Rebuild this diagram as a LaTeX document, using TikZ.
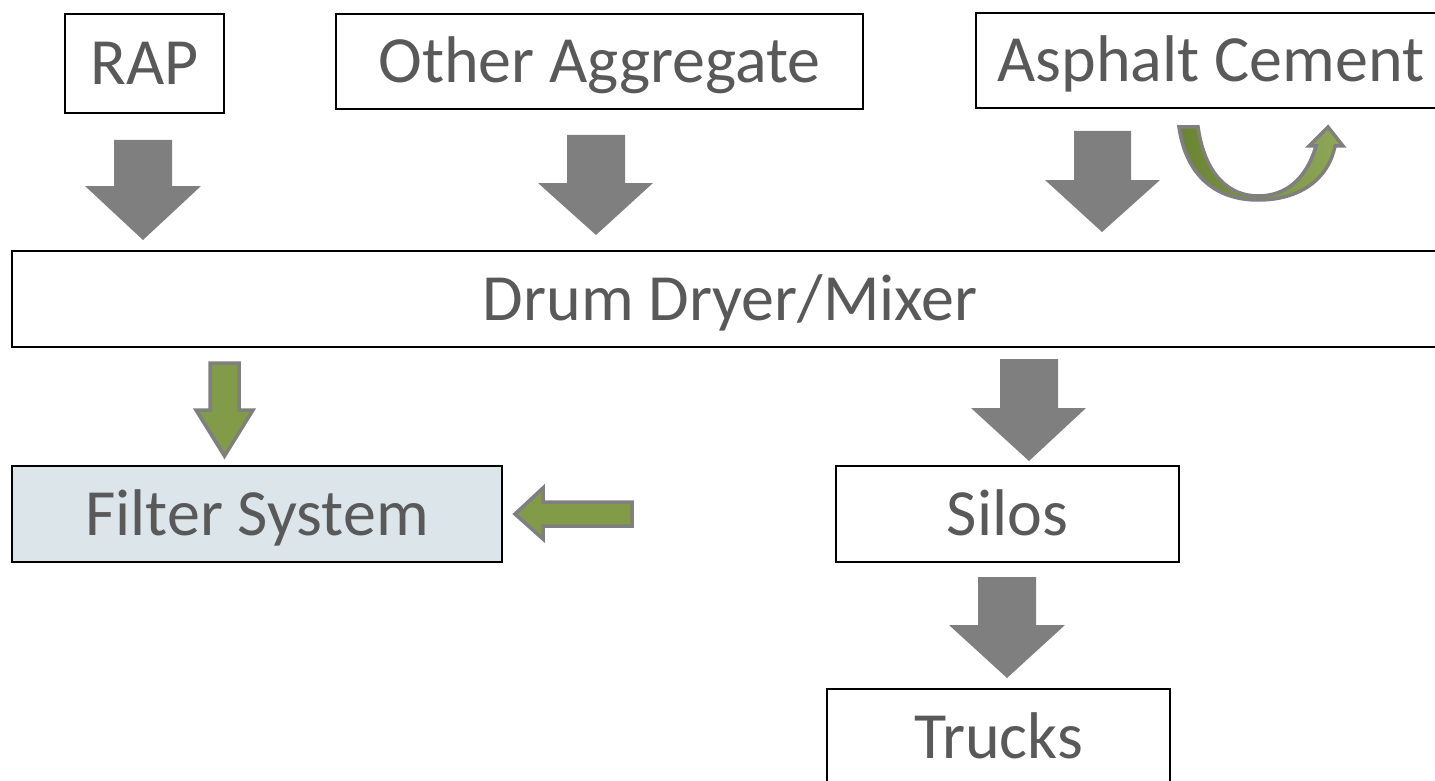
\documentclass[tikz,border=0pt]{standalone}
\usepackage{fontspec}
\setmainfont{Carlito}
\definecolor{txt}{HTML}{595959}
\definecolor{arrgray}{HTML}{7F7F7F}
\definecolor{grn}{HTML}{819B48}
\definecolor{grndark}{HTML}{6A8434}
\definecolor{grnlight}{HTML}{8FA757}
\definecolor{filterfill}{HTML}{DBE5EA}
\tikzset{
  box/.style={draw=black, line width=1.4pt, fill=white, inner sep=0pt, outer sep=0pt,
    text=txt, font=\fontsize{66}{79}\selectfont, text height=43pt, text depth=0pt},
  grayarrow/.style={fill=arrgray, draw=none},
  greenarrow/.style={fill=grn, draw=arrgray, line width=3.5pt, line join=miter},
}
\begin{document}
\begin{tikzpicture}[x=1pt,y=-1pt]
\useasboundingbox (0,0) rectangle (1435,781);
% boxes
\node[box, minimum width=159pt, minimum height=99pt] (rap) at (144.5,63.5) {RAP};
\node[box, minimum width=527pt, minimum height=95pt] (oa) at (599.5,61.5) {Other Aggregate};
\node[box, minimum width=470pt, minimum height=95pt] (ac) at (1211,60.5) {Asphalt Cement};
\node[box, minimum width=1436pt, minimum height=96pt] (drum) at (730,299) {Drum Dryer/Mixer};
\node[box, fill=filterfill, minimum width=490pt, minimum height=96pt] (filter) at (257,514) {Filter System};
\node[box, minimum width=343pt, minimum height=96pt] (silos) at (1007.5,514) {Silos};
\node[box, minimum width=343pt, minimum height=96pt] (trucks) at (998.5,737) {Trucks};
% gray block arrows
\path[grayarrow] (114,140)--(172,140)--(172,186)--(201,186)--(143,240)--(85,186)--(114,186)--cycle;
\path[grayarrow] (567,135)--(625,135)--(625,183)--(653,183)--(596,235)--(538,183)--(567,183)--cycle;
\path[grayarrow] (1074,131)--(1131,131)--(1131,180)--(1160,180)--(1102,232)--(1045,180)--(1074,180)--cycle;
\path[grayarrow] (1000,359)--(1058,359)--(1058,408)--(1086,408)--(1029,461)--(971,408)--(1000,408)--cycle;
\path[grayarrow] (978,577)--(1036,577)--(1036,625)--(1065,625)--(1007,678)--(949,625)--(978,625)--cycle;
% green arrows
\path[greenarrow] (210,363)--(239,363)--(239,410)--(253,410)--(224.5,456)--(196,410)--(210,410)--cycle;
\path[greenarrow] (632,502)--(632,526)--(543,526)--(543,539)--(515,514)--(543,488)--(543,502)--cycle;
% U-turn arrow
\path[draw=arrgray, line width=3.5pt, line join=miter, left color=grndark, right color=grnlight]
  (1179,127) .. controls (1186,176) and (1216,200) .. (1258,200)
  .. controls (1299,200) and (1328,180) .. (1335,146)
  -- (1343,146) -- (1328,127) -- (1309,146) -- (1316,146)
  .. controls (1306,180) and (1285,196) .. (1258,196)
  .. controls (1230,196) and (1205,176) .. (1198,127) -- cycle;
\end{tikzpicture}
\end{document}
